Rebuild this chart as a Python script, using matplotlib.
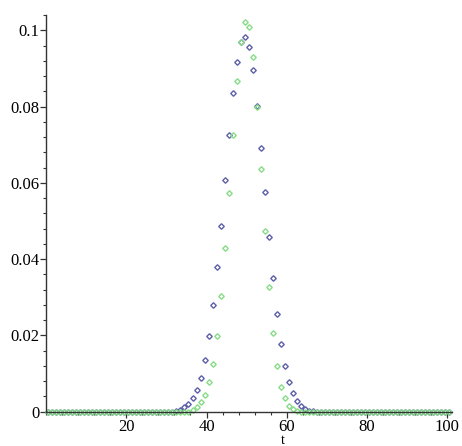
import matplotlib
matplotlib.use('Agg')
import matplotlib.pyplot as plt
import numpy as np
from matplotlib.ticker import MultipleLocator, FixedLocator

# time steps, t = 0 .. 100
t = np.arange(0, 101)

# non-zero part of the blue series (t = 32 .. 66)
blue_t = list(range(32, 67))
blue_vals = [0.0002, 0.0005, 0.0011, 0.0020, 0.0035, 0.0056, 0.0087, 0.0135,
             0.0198, 0.0279, 0.0380, 0.0488, 0.0608, 0.0726, 0.0835, 0.0916,
             0.0970, 0.0982, 0.0957, 0.0896, 0.0802, 0.0692, 0.0575, 0.0458,
             0.0350, 0.0255, 0.0178, 0.0119, 0.0078, 0.0048, 0.0028, 0.0014,
             0.0006, 0.0002, 0.0001]

# non-zero part of the green series (t = 36 .. 62)
green_t = list(range(36, 63))
green_vals = [0.0005, 0.0013, 0.0025, 0.0043, 0.0077, 0.0126, 0.0198, 0.0303,
              0.0428, 0.0573, 0.0726, 0.0867, 0.0969, 0.1023, 0.1008, 0.0929,
              0.0800, 0.0636, 0.0474, 0.0328, 0.0207, 0.0121, 0.0065, 0.0035,
              0.0015, 0.0006, 0.0002]

y_ticks = [0, 0.02, 0.04, 0.06, 0.08, 0.1]
y_tick_labels = ['0', '0.02', '0.04', '0.06', '0.08', '0.1']
x_ticks = [20, 40, 60, 80, 100]

blue = np.zeros(len(t))
blue[blue_t] = blue_vals
green = np.zeros(len(t))
green[green_t] = green_vals

plt.rcParams['font.family'] = ['Liberation Serif', 'DejaVu Serif']

fig = plt.figure(figsize=(4.62, 4.46), dpi=100)
ax = fig.add_axes([0.1, 0.077, 0.878, 0.889])

ax.plot(t + 0.5, blue, linestyle='none', marker='D', markersize=2.8,
        markerfacecolor='none', markeredgecolor='#5d5fa8', markeredgewidth=1.0,
        clip_on=False)
ax.plot(t + 0.5, green, linestyle='none', marker='D', markersize=2.8,
        markerfacecolor='none', markeredgecolor='#86dc86', markeredgewidth=1.0,
        clip_on=False)

ax.set_xlim(0, 101.2)
ax.set_ylim(0, 0.104)

for side in ['top', 'right']:
    ax.spines[side].set_visible(False)
for side in ['left', 'bottom']:
    ax.spines[side].set_color('#333333')
    ax.spines[side].set_linewidth(1.0)

ax.xaxis.set_major_locator(FixedLocator(x_ticks))
ax.xaxis.set_minor_locator(MultipleLocator(4))
ax.yaxis.set_major_locator(FixedLocator(y_ticks))
ax.yaxis.set_minor_locator(MultipleLocator(0.004))
ax.set_yticklabels(y_tick_labels)

ax.tick_params(axis='both', which='major', labelsize=12, length=4,
               width=0.9, color='#333333', direction='out', pad=1.0)
ax.tick_params(axis='both', which='minor', length=2.5, width=0.8,
               color='#333333', direction='out')

ax.set_xlabel('t', fontsize=10)
ax.xaxis.set_label_coords(0.583, -0.056)

fig.savefig('out.png', dpi=100)
